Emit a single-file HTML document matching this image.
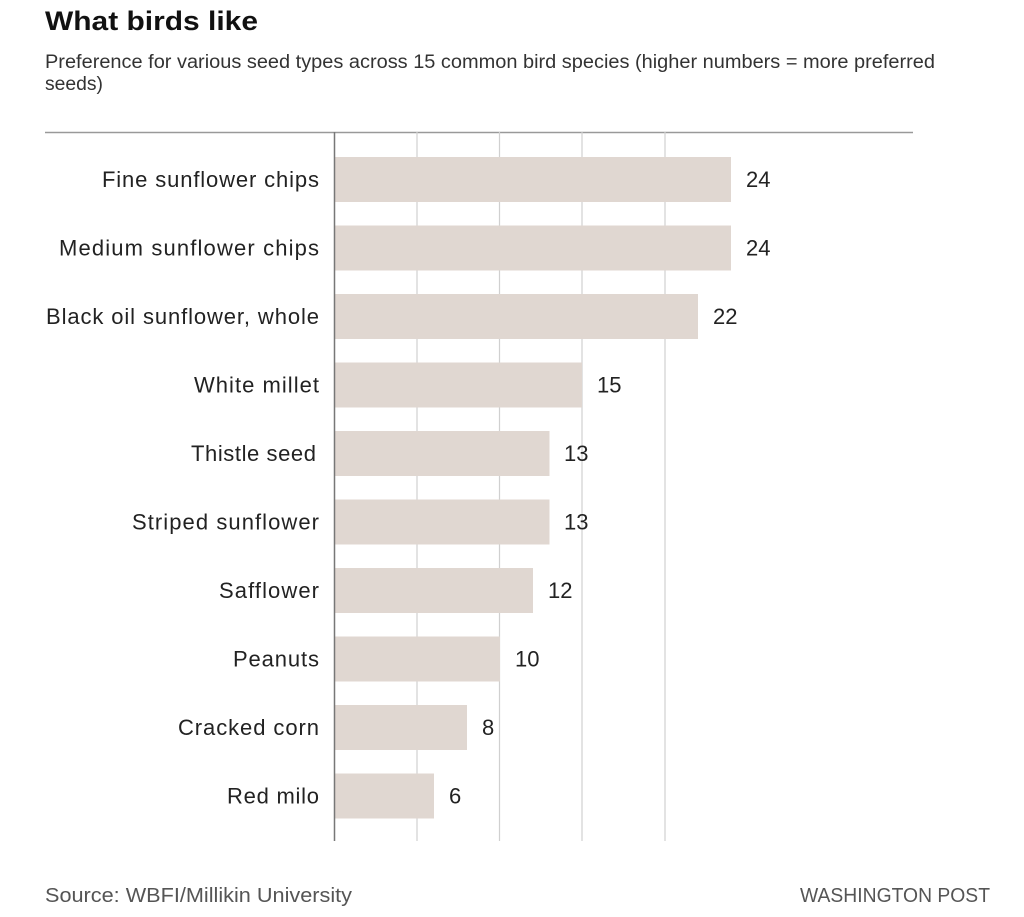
<!DOCTYPE html>
<html><head><meta charset="utf-8"><style>
html,body{margin:0;padding:0;background:#fff;}
svg{display:block;font-family:"Liberation Sans",sans-serif;}
</style></head><body>
<svg width="1024" height="917" viewBox="0 0 1024 917" xmlns="http://www.w3.org/2000/svg">
<text x="45" y="30" font-size="27" font-weight="bold" fill="#111" textLength="213" lengthAdjust="spacingAndGlyphs">What birds like</text>
<text x="45" y="68" font-size="19" fill="#333" textLength="890" lengthAdjust="spacingAndGlyphs">Preference for various seed types across 15 common bird species (higher numbers = more preferred</text>
<text x="45" y="90" font-size="19" fill="#333" textLength="58" lengthAdjust="spacingAndGlyphs">seeds)</text>
<line x1="45" y1="132.5" x2="913" y2="132.5" stroke="#999" stroke-width="1.5"/>
<g stroke="#d0d0d0" stroke-width="1.2">
<line x1="417" y1="132" x2="417" y2="841"/>
<line x1="499.5" y1="132" x2="499.5" y2="841"/>
<line x1="582" y1="132" x2="582" y2="841"/>
<line x1="665" y1="132" x2="665" y2="841"/>
</g>
<g fill="#e0d7d1">
<rect x="334" y="157" width="397" height="45"/>
<rect x="334" y="225.5" width="397" height="45"/>
<rect x="334" y="294" width="364" height="45"/>
<rect x="334" y="362.5" width="248" height="45"/>
<rect x="334" y="431" width="215.5" height="45"/>
<rect x="334" y="499.5" width="215.5" height="45"/>
<rect x="334" y="568" width="199" height="45"/>
<rect x="334" y="636.5" width="166" height="45"/>
<rect x="334" y="705" width="133" height="45"/>
<rect x="334" y="773.5" width="100" height="45"/>
</g>
<line x1="334.5" y1="132" x2="334.5" y2="841" stroke="#777" stroke-width="1.5"/>
<g font-size="22" fill="#222" lengthAdjust="spacingAndGlyphs">
<text x="102" y="187" textLength="217">Fine sunflower chips</text>
<text x="59" y="255.5" textLength="260">Medium sunflower chips</text>
<text x="46" y="324" textLength="273">Black oil sunflower, whole</text>
<text x="194" y="392.5" textLength="125">White millet</text>
<text x="191" y="461" textLength="125">Thistle seed</text>
<text x="132" y="529.5" textLength="187">Striped sunflower</text>
<text x="219" y="598" textLength="100">Safflower</text>
<text x="233" y="666.5" textLength="86">Peanuts</text>
<text x="178" y="735" textLength="141">Cracked corn</text>
<text x="227" y="803.5" textLength="92">Red milo</text>
</g>
<g font-size="22" fill="#222">
<text x="746" y="187">24</text>
<text x="746" y="255.5">24</text>
<text x="713" y="324">22</text>
<text x="597" y="392.5">15</text>
<text x="564" y="461">13</text>
<text x="564" y="529.5">13</text>
<text x="548" y="598">12</text>
<text x="515" y="666.5">10</text>
<text x="482" y="735">8</text>
<text x="449" y="803.5">6</text>
</g>
<text x="45" y="902" font-size="20" fill="#555" textLength="307" lengthAdjust="spacingAndGlyphs">Source: WBFI/Millikin University</text>
<text x="990" y="902" font-size="20" fill="#555" text-anchor="end" textLength="190" lengthAdjust="spacingAndGlyphs">WASHINGTON POST</text>
</svg>
</body></html>
